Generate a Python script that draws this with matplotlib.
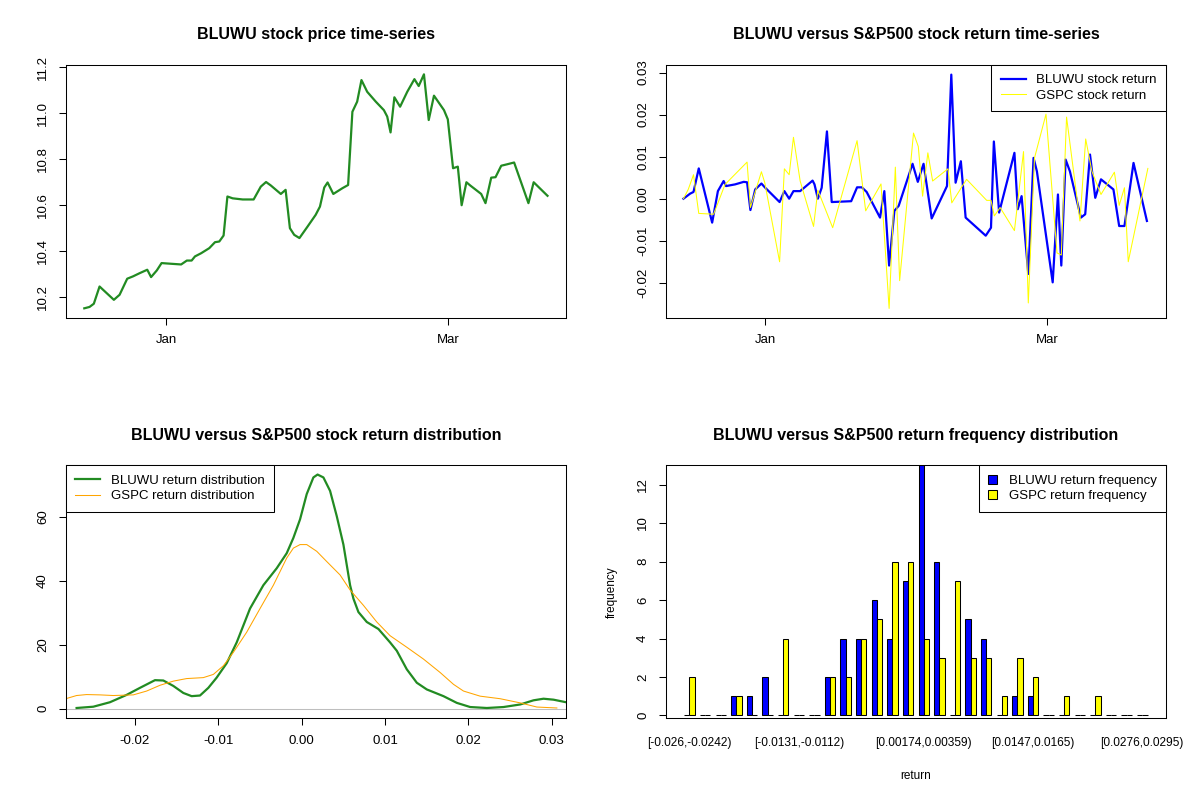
import numpy as np
import pandas as pd
import matplotlib
matplotlib.use("Agg")
import matplotlib.pyplot as plt
import matplotlib.dates as mdates
import matplotlib.patches as mpatches
from matplotlib.lines import Line2D

plt.rcParams['font.family'] = ['Liberation Sans', 'DejaVu Sans']

# ---- data ----
# days are counted from 1 Jan (negative = December)
price_days = [-17.2, -16.1, -15.2, -14.0, -11.0, -9.8, -8.2, -7.0, -5.6, -4.0,
              -3.2, -2.0, -1.0, 1.0, 3.1, 4.3, 5.3, 6.0, 7.3, 9.0,
              10.2, 11.1, 12.0, 12.8, 13.9, 16.0, 18.3, 19.8, 20.9, 21.9,
              24.0, 25.0, 25.9, 26.8, 27.9, 29.6, 31.3, 32.2, 33.1, 33.8,
              35.0, 36.9, 38.1, 39.0, 40.0, 40.9, 42.1, 43.9, 45.6, 46.3,
              47.0, 47.8, 49.0, 50.5, 52.0, 52.9, 54.0, 55.0, 56.1, 58.2,
              59.0, 60.1, 61.1, 61.9, 62.9, 63.7, 66.0, 66.9, 68.1, 69.0,
              70.2, 71.4, 72.9, 75.9, 77.0, 79.9]
bluwu_price = [10.151, 10.157, 10.171, 10.246, 10.188, 10.210, 10.280, 10.290, 10.304, 10.319,
               10.287, 10.316, 10.348, 10.345, 10.342, 10.359, 10.359, 10.377, 10.391, 10.413,
               10.439, 10.442, 10.468, 10.638, 10.630, 10.625, 10.625, 10.681, 10.701, 10.686,
               10.649, 10.667, 10.500, 10.471, 10.457, 10.507, 10.558, 10.594, 10.677, 10.699,
               10.649, 10.674, 10.688, 11.007, 11.051, 11.145, 11.094, 11.051, 11.014, 10.986,
               10.917, 11.070, 11.029, 11.094, 11.149, 11.119, 11.170, 10.971, 11.077, 11.014,
               10.974, 10.761, 10.768, 10.600, 10.700, 10.686, 10.649, 10.609, 10.720, 10.722,
               10.772, 10.778, 10.786, 10.609, 10.700, 10.641]

bluwu_ret_days = [-17.1, -15.7, -15.0, -13.9, -11.1, -9.9, -8.7, -8.2, -6.3, -4.5,
                  -3.8, -3.1, -2.1, -0.8, 0.0, 3.0, 4.0, 5.0, 5.9, 7.3,
                  9.9, 10.3, 11.0, 11.8, 12.9, 13.9, 17.97, 19.2, 20.2, 21.2,
                  24.0, 24.9, 25.9, 27.0, 27.9, 30.8, 31.9, 33.1, 34.8, 38.0,
                  38.9, 39.8, 40.9, 41.9, 46.1, 47.2, 47.8, 48.9, 52.1, 52.8,
                  53.6, 55.0, 56.1, 56.8, 60.1, 61.2, 61.9, 62.8, 63.7, 66.0,
                  66.9, 67.9, 69.0, 70.2, 72.8, 74.0, 75.1, 77.0, 79.8]
bluwu_ret = [0.0, 0.0012, 0.0016, 0.0072, -0.0057, 0.0018, 0.0042, 0.0030, 0.0034, 0.0040,
             0.0039, -0.0027, 0.0022, 0.0036, 0.0026, -0.0008, 0.0018, 0.0, 0.0018, 0.0018,
             0.0043, 0.0034, 0.0, 0.0026, 0.0160, -0.0008, -0.0006, 0.0027, 0.0027, 0.0016,
             -0.0045, 0.0018, -0.0159, -0.0029, -0.0017, 0.0083, 0.0040, 0.0083, -0.0047, 0.0030,
             0.0295, 0.0038, 0.0089, -0.0045, -0.0088, -0.0069, 0.0136, -0.0033, 0.0109, -0.0025,
             0.0006, -0.0179, 0.0097, 0.0065, -0.0199, 0.0010, -0.0159, 0.0093, 0.0065, -0.0045,
             -0.0037, 0.0105, 0.0002, 0.0046, 0.0022, -0.0065, -0.0065, 0.0085, -0.0053]

gspc_ret_days = [-17.1, -16.1, -15.0, -13.9, -10.8, -8.4, -3.8, -3.1, -0.8, -0.1,
                 3.0, 4.0, 5.0, 5.9, 7.3, 10.1, 11.0, 14.1, 19.2, 21.0,
                 24.2, 25.9, 27.2, 28.1, 31.0, 32.0, 32.9, 34.0, 35.0, 38.2,
                 39.0, 42.1, 46.3, 47.2, 47.9, 49.1, 52.1, 54.0, 55.0, 56.3,
                 58.7, 61.0, 61.9, 63.0, 65.8, 67.0, 68.3, 70.2, 73.0, 74.0,
                 75.1, 75.9, 80.0]
gspc_ret = [0.0, 0.0022, 0.0057, -0.0035, -0.0037, 0.0034, 0.0087, -0.0021, 0.0064, 0.0038,
            -0.0150, 0.0071, 0.0057, 0.0146, 0.0042, -0.0066, 0.0020, -0.0069, 0.0138, -0.0029,
            0.0035, -0.0261, 0.0075, -0.0195, 0.0156, 0.0124, 0.0006, 0.0109, 0.0042, 0.0071,
            -0.0010, 0.0046, -0.0004, -0.0004, -0.0041, -0.0021, -0.0076, 0.0112, -0.0248, 0.0097,
            0.0201, -0.0129, -0.0134, 0.0194, -0.0053, 0.0142, 0.0065, 0.0010, 0.0063, -0.0016,
            0.0026, -0.0150, 0.0072]

# density curves (return, density)
bluwu_dens_x = [-0.0270, -0.0250, -0.0230, -0.0210, -0.0194, -0.0176, -0.0166, -0.0154, -0.0142, -0.0132,
                -0.0122, -0.0112, -0.0102, -0.0090, -0.0078, -0.0062, -0.0046, -0.0030, -0.0018, -0.0010,
                -0.0002, 0.0006, 0.0014, 0.0019, 0.0026, 0.0034, 0.0042, 0.0050, 0.0058, 0.0062,
                0.0068, 0.0078, 0.0092, 0.0106, 0.0114, 0.0126, 0.0138, 0.0150, 0.0170, 0.0186,
                0.0202, 0.0222, 0.0242, 0.0262, 0.0278, 0.0290, 0.0302, 0.0317]
bluwu_dens_y = [0.2, 0.6, 2.0, 4.3, 6.5, 8.9, 8.8, 7.1, 4.9, 3.9,
                4.1, 6.5, 9.7, 14.2, 20.7, 31.3, 38.6, 43.9, 48.6, 53.4,
                59.2, 67.1, 72.3, 73.2, 72.3, 68.1, 60.2, 51.3, 38.6, 34.4,
                30.2, 27.1, 24.9, 20.7, 18.1, 12.3, 8.1, 6.0, 3.9, 1.8,
                0.5, 0.2, 0.5, 1.3, 2.6, 3.1, 2.8, 2.0]
gspc_dens_x = [-0.0283, -0.0270, -0.0258, -0.0242, -0.0226, -0.0202, -0.0186, -0.0170, -0.0154, -0.0138,
               -0.0118, -0.0106, -0.0094, -0.0082, -0.0066, -0.0050, -0.0034, -0.0018, -0.0010, -0.0002,
               0.0006, 0.0018, 0.0030, 0.0046, 0.0058, 0.0074, 0.0090, 0.0106, 0.0126, 0.0146,
               0.0166, 0.0182, 0.0194, 0.0214, 0.0238, 0.0262, 0.0282, 0.0306]
gspc_dens_y = [3.1, 4.1, 4.4, 4.3, 4.1, 4.3, 5.5, 7.3, 8.6, 9.4,
               9.7, 10.7, 13.4, 17.6, 23.9, 31.3, 38.6, 47.1, 50.2, 51.3,
               51.3, 49.2, 46.0, 41.8, 37.1, 32.3, 27.1, 22.8, 19.2, 15.5,
               11.3, 7.6, 5.5, 3.9, 3.1, 1.8, 0.5, 0.2]

# frequency per return bin (30 bins)
bluwu_freq = [0, 0, 0, 1, 1, 2, 0, 0, 0, 2, 4, 4, 6, 4, 7, 13, 8, 0, 5, 4, 0, 1, 1, 0, 0, 0, 0, 0, 0, 0]
gspc_freq = [2, 0, 0, 1, 0, 0, 4, 0, 0, 2, 2, 4, 5, 8, 8, 4, 3, 7, 3, 3, 1, 3, 2, 0, 1, 0, 1, 0, 0, 0]
shown_bins = [0, 7, 15, 22, 29]
shown_bin_labels = ['[-0.026,-0.0242)', '[-0.0131,-0.0112)', '[0.00174,0.00359)',
                    '[0.0147,0.0165)', '[0.0276,0.0295)']

base = pd.Timestamp('2017-01-01')


def to_dates(days):
    return base + pd.to_timedelta(days, unit='D')


def style_axes(ax):
    for s in ax.spines.values():
        s.set_linewidth(0.75)
    ax.tick_params(direction='out', length=5, width=0.75, labelsize=9.5, pad=7)
    ax.tick_params(axis='y', labelrotation=90)
    for lbl in ax.get_yticklabels():
        lbl.set_va('center')


def date_axis(ax):
    ax.xaxis.set_major_locator(mdates.MonthLocator(bymonth=[1, 3]))
    ax.xaxis.set_major_formatter(mdates.DateFormatter('%b'))


fig = plt.figure(figsize=(12, 8), dpi=100)
w, h = 0.4169, 0.3159
ax1 = fig.add_axes([0.0548, 0.6029, w, h])
ax2 = fig.add_axes([0.5548, 0.6029, w, h])
ax3 = fig.add_axes([0.0548, 0.1025, w, h])
ax4 = fig.add_axes([0.5548, 0.1025, w, h])

title_kw = dict(fontsize=11.5, fontweight='bold', pad=18.5)

# top-left: price
ax1.plot(to_dates(price_days), bluwu_price, color='forestgreen', lw=1.6)
ax1.margins(x=0.04, y=0.04)
ax1.set_yticks([10.2, 10.4, 10.6, 10.8, 11.0, 11.2])
date_axis(ax1)
ax1.set_title('BLUWU stock price time-series', **title_kw)
style_axes(ax1)

# top-right: returns
ax2.plot(to_dates(bluwu_ret_days), bluwu_ret, color='blue', lw=1.6)
ax2.plot(to_dates(gspc_ret_days), gspc_ret, color='yellow', lw=0.75)
ax2.set_xlim(to_dates([-20.8, 83.8]))
ax2.set_ylim(-0.0283, 0.0318)
ax2.set_yticks([-0.02, -0.01, 0.0, 0.01, 0.02, 0.03])
ax2.yaxis.set_major_formatter(matplotlib.ticker.FormatStrFormatter('%.2f'))
date_axis(ax2)
ax2.set_title('BLUWU versus S&P500 stock return time-series', **title_kw)
style_axes(ax2)
leg = ax2.legend([Line2D([], [], color='blue', lw=1.6), Line2D([], [], color='yellow', lw=0.75)],
                 ['BLUWU stock return', 'GSPC stock return'],
                 loc='upper right', borderaxespad=0, fancybox=False, edgecolor='black',
                 framealpha=1, fontsize=9.5, handlelength=1.9, handletextpad=0.8,
                 borderpad=0.7, labelspacing=0.25)
leg.get_frame().set_linewidth(0.75)

# bottom-left: density
ax3.axhline(0, color='#BEBEBE', lw=0.75)
ax3.plot(bluwu_dens_x, bluwu_dens_y, color='forestgreen', lw=1.6)
ax3.plot(gspc_dens_x, gspc_dens_y, color='orange', lw=0.75)
ax3.set_xlim(-0.0283, 0.0317)
ax3.set_ylim(-2.93, 76.1)
ax3.set_xticks([-0.02, -0.01, 0.0, 0.01, 0.02, 0.03])
ax3.xaxis.set_major_formatter(matplotlib.ticker.FormatStrFormatter('%.2f'))
ax3.set_yticks([0, 20, 40, 60])
ax3.set_title('BLUWU versus S&P500 stock return distribution', **title_kw)
style_axes(ax3)
leg = ax3.legend([Line2D([], [], color='forestgreen', lw=1.6), Line2D([], [], color='orange', lw=0.75)],
                 ['BLUWU return distribution', 'GSPC return distribution'],
                 loc='upper left', borderaxespad=0, fancybox=False, edgecolor='black',
                 framealpha=1, fontsize=9.5, handlelength=1.9, handletextpad=0.8,
                 borderpad=0.7, labelspacing=0.25)
leg.get_frame().set_linewidth(0.75)

# bottom-right: grouped frequency bars
groups = np.arange(len(bluwu_freq))
ax4.bar(groups * 3 + 1.5, bluwu_freq, width=1, color='blue', edgecolor='black', lw=0.75)
ax4.bar(groups * 3 + 2.5, gspc_freq, width=1, color='yellow', edgecolor='black', lw=0.75)
ax4.set_xlim(-2.56, 93.56)
ax4.set_ylim(-0.13, 13)
ax4.set_yticks([0, 2, 4, 6, 8, 10, 12])
ax4.set_xticks(np.array(shown_bins) * 3 + 2)
ax4.set_xticklabels(shown_bin_labels)
ax4.set_title('BLUWU versus S&P500 return frequency distribution', **title_kw)
style_axes(ax4)
ax4.tick_params(axis='x', length=0, labelsize=8.6, pad=14)
leg = ax4.legend([mpatches.Patch(facecolor='blue', edgecolor='black', lw=0.75),
                  mpatches.Patch(facecolor='yellow', edgecolor='black', lw=0.75)],
                 ['BLUWU return frequency', 'GSPC return frequency'],
                 loc='upper right', borderaxespad=0, fancybox=False, edgecolor='black',
                 framealpha=1, fontsize=9.5, handlelength=0.7, handleheight=0.7,
                 handletextpad=0.9, borderpad=0.7, labelspacing=0.25)
leg.get_frame().set_linewidth(0.75)
fig.text(915.9 / 1200, 1 - 776 / 800, 'return', fontsize=8.5, ha='center', va='center')
fig.text(612 / 1200, 1 - 592 / 800, 'frequency', fontsize=8.5, ha='center', va='center',
         rotation=90)

fig.savefig('out.png', dpi=100)
